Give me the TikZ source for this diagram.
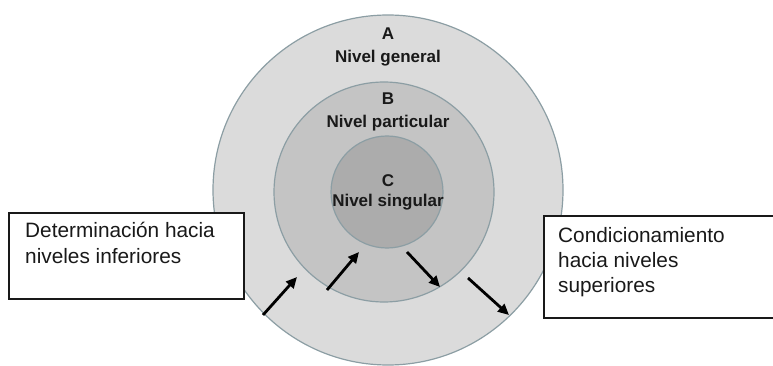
\documentclass[tikz,border=0pt]{standalone}
\usepackage{fontspec}
\setmainfont{Liberation Sans}
\usetikzlibrary{arrows.meta}
\definecolor{ringA}{RGB}{219,219,219}
\definecolor{ringB}{RGB}{196,196,196}
\definecolor{ringC}{RGB}{172,172,172}
\definecolor{edgecol}{RGB}{140,158,164}
\definecolor{boxedge}{RGB}{25,25,25}
\begin{document}
\begin{tikzpicture}[x=1pt,y=-1pt,
  ring/.style={circle, draw=edgecol, line width=1.2pt, inner sep=0pt},
  lvl/.style={font=\fontsize{17}{20}\selectfont\bfseries, anchor=base, inner sep=0pt, text=black!90},
  txtbox/.style={draw=boxedge, fill=white, line width=1.6pt, anchor=north west, inner sep=0pt},
  boxtxt/.style={font=\fontsize{20.8}{25}\selectfont, anchor=base west, inner sep=0pt, text=black!90},
  arr/.style={line width=2.8pt, -{Triangle[length=11pt,width=10pt]}}
]
\useasboundingbox (0,0) rectangle (773,366);
\fill[white] (0,0) rectangle (773,366);

\node[ring, fill=ringA, minimum size=350pt] (A) at (388,190) {};
\node[ring, fill=ringB, minimum size=220pt] (B) at (384,192) {};
\node[ring, fill=ringC, minimum size=112pt] (C) at (387,192) {};

\node[lvl] (tA1) at (388,40) {A};
\node[lvl] (tA2) at (388,63) {Nivel general};
\node[lvl] (tB1) at (388,105) {B};
\node[lvl] (tB2) at (388,128) {Nivel particular};
\node[lvl] (tC1) at (388,186) {C};
\node[lvl] (tC2) at (388,207) {Nivel singular};

\node[txtbox, minimum width=235pt, minimum height=86pt] (L) at (8,212) {};
\node[boxtxt] (L1) at (25,237.5) {Determinación hacia};
\node[boxtxt] (L2) at (25,263.5) {niveles inferiores};

\node[txtbox, minimum width=240pt, minimum height=102pt] (R) at (543,215) {};
\node[boxtxt] (R1) at (558,242) {Condicionamiento};
\node[boxtxt] (R2) at (558,267) {hacia niveles};
\node[boxtxt] (R3) at (558,292) {superiores};

\coordinate (a1s) at (263,315);
\coordinate (a1e) at (297,277);
\coordinate (a2s) at (327,290);
\coordinate (a2e) at (359,252);
\coordinate (a3s) at (407,252);
\coordinate (a3e) at (440,287);
\coordinate (a4s) at (468,278);
\coordinate (a4e) at (509,315);
\draw[arr] (a1s) -- (a1e);
\draw[arr] (a2s) -- (a2e);
\draw[arr] (a3s) -- (a3e);
\draw[arr] (a4s) -- (a4e);
\end{tikzpicture}
\end{document}
